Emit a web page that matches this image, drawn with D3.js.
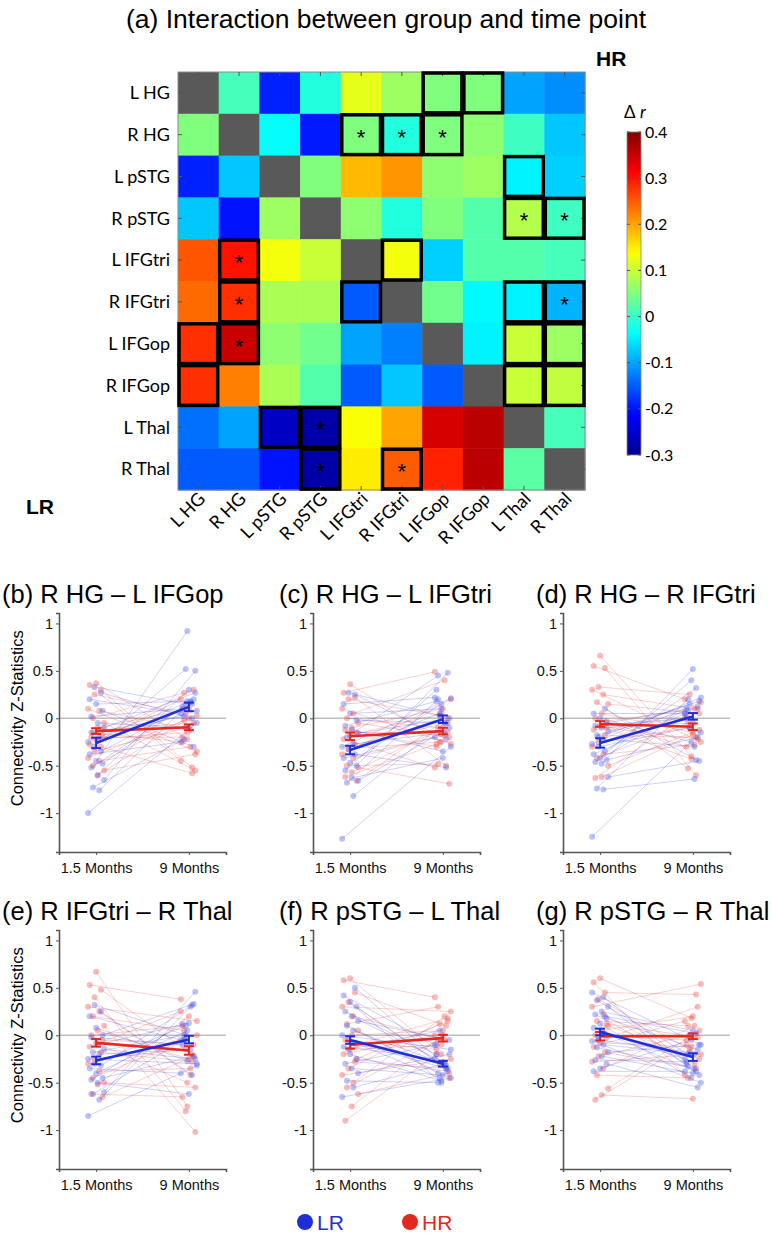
<!DOCTYPE html>
<html>
<head>
<meta charset="utf-8">
<script src="https://cdn.jsdelivr.net/npm/d3@7"></script>
<style>
body { margin: 0; background: #fff; }
svg { display: block; }
</style>
</head>
<body>
<div id="chart"></div>
<script>
// ---- data ----
var regions = ["L HG", "R HG", "L pSTG", "R pSTG", "L IFGtri", "R IFGtri", "L IFGop", "R IFGop", "L Thal", "R Thal"];

// delta r matrix: upper triangle = HR, lower triangle = LR, diagonal empty
var deltaR = [
  [null, 0.01, -0.19, -0.015, 0.12, 0.07, 0.05, 0.05, -0.10, -0.115],
  [0.05, null, -0.035, -0.195, 0.05, -0.015, 0.05, 0.06, 0.005, -0.075],
  [-0.19, -0.075, null, 0.05, 0.185, 0.21, 0.06, 0.07, -0.045, -0.07],
  [-0.075, -0.20, 0.07, null, 0.06, -0.015, 0.05, 0.02, 0.085, 0.005],
  [0.255, 0.30, 0.13, 0.10, null, 0.13, -0.07, 0.02, 0.02, 0.01],
  [0.24, 0.28, 0.08, 0.08, -0.15, null, 0.04, -0.04, -0.045, -0.09],
  [0.28, 0.35, 0.06, 0.04, -0.10, -0.125, null, -0.045, 0.10, 0.07],
  [0.28, 0.225, 0.08, 0.02, -0.15, -0.075, -0.15, null, 0.10, 0.095],
  [-0.135, -0.10, -0.26, -0.28, 0.135, 0.20, 0.34, 0.36, null, 0.01],
  [-0.15, -0.15, -0.20, -0.28, 0.15, 0.25, 0.29, 0.36, 0.025, null]
];
var boxed = [[0,6],[0,7],[1,4],[1,5],[1,6],[2,8],[3,8],[3,9],[4,1],[4,5],[5,1],[5,4],[5,8],[5,9],
  [6,0],[6,1],[6,8],[6,9],[7,0],[7,8],[7,9],[8,2],[8,3],[9,3],[9,5]];
var starred = [[1,4],[1,5],[1,6],[3,8],[3,9],[4,1],[5,1],[5,9],[6,1],[8,3],[9,3],[9,5]];
var cbarTicks = [0.4, 0.3, 0.2, 0.1, 0, -0.1, -0.2, -0.3];

var timeLabels = ["1.5 Months", "9 Months"];
var yTicks = [1, 0.5, 0, -0.5, -1];
var panelTitles = ["(b) R HG \u2013 L IFGop", "(c) R HG \u2013 L IFGtri", "(d) R HG \u2013 R IFGtri",
  "(e) R IFGtri \u2013 R Thal", "(f) R pSTG \u2013 L Thal", "(g) R pSTG \u2013 R Thal"];

// group means and standard errors [1.5 months, 9 months]
var meanLR = [[-0.26, 0.12], [-0.335, -0.01], [-0.26, 0.02], [-0.265, -0.045], [-0.05, -0.30], [0.035, -0.23]];
var seLR   = [[0.055, 0.045], [0.045, 0.04], [0.05, 0.035], [0.04, 0.04], [0.04, 0.03], [0.035, 0.04]];
var meanHR = [[-0.135, -0.095], [-0.19, -0.135], [-0.06, -0.09], [-0.08, -0.16], [-0.10, -0.03], [-0.01, -0.01]];
var seHR   = [[0.03, 0.03], [0.04, 0.035], [0.03, 0.035], [0.04, 0.045], [0.04, 0.035], [0.045, 0.03]];

// individual subjects [1.5 months, 9 months]
var lrB = [[-1.0,-0.05],[-0.76,0.17],[-0.73,-0.22],[-0.65,0.5],[-0.6,0.3],[-0.52,0.12],[-0.48,0.2],[-0.45,0.92],[-0.38,-0.25],[-0.35,0.15],[-0.3,0.52],
  [-0.25,0.08],[-0.2,0.18],[-0.15,0.02],[-0.1,0.27],[-0.05,-0.1],[0.02,0.1],[0.08,-0.3],[0.15,0.18],[0.2,0.05],[0.27,0.0],[0.33,0.15]];
var hrB = [[0.37,-0.22],[0.35,-0.45],[0.3,-0.52],[0.25,0.05],[0.1,-0.35],[0.08,-0.12],[0.0,0.27],[-0.05,-0.55],[-0.1,0.1],[-0.15,-0.25],[-0.18,0.3],
  [-0.22,-0.15],[-0.28,0.2],[-0.3,-0.58],[-0.35,-0.1],[-0.42,0.03],[-0.45,-0.3],[-0.5,-0.02],[-0.55,-0.38],[-0.6,0.0],[-0.2,-0.2],[-0.12,-0.05]];
var lrC = [[-1.27,-0.3],[-0.82,-0.05],[-0.68,0.2],[-0.66,-0.1],[-0.63,-0.42],[-0.55,0.3],[-0.5,0.48],[-0.47,0.15],[-0.42,-0.2],[-0.38,-0.52],[-0.33,0.05],
  [-0.3,0.21],[-0.27,-0.15],[-0.2,0.45],[-0.16,0.0],[-0.12,-0.35],[-0.08,0.18],[-0.02,-0.05],[0.05,0.1],[0.15,0.22],[0.25,-0.22],[0.27,0.03]];
var hrC = [[0.36,-0.25],[0.27,0.49],[0.22,-0.5],[0.2,0.03],[0.1,-0.27],[0.05,0.4],[0.0,-0.1],[-0.05,-0.2],[-0.1,0.1],[-0.12,-0.3],[-0.15,-0.15],
  [-0.18,0.05],[-0.22,-0.52],[-0.28,-0.05],[-0.32,-0.25],[-0.38,0.2],[-0.42,-0.18],[-0.5,-0.48],[-0.52,-0.69],[-0.57,-0.1],[-0.62,-0.27],[-0.66,0.0]];
var lrD = [[-1.25,-0.15],[-0.75,-0.64],[-0.74,0.2],[-0.62,-0.45],[-0.48,0.52],[-0.46,0.1],[-0.44,-0.2],[-0.42,0.4],[-0.38,0.05],[-0.35,0.32],[-0.3,-0.1],
  [-0.27,0.22],[-0.22,-0.3],[-0.18,0.08],[-0.14,0.18],[-0.1,-0.05],[-0.08,0.0],[-0.05,0.12],[0.0,-0.25],[0.05,0.05],[0.1,-0.44],[-0.2,0.15]];
var hrD = [[0.66,-0.4],[0.55,0.2],[0.53,-0.6],[0.33,0.25],[0.3,-0.25],[0.25,0.1],[0.17,-0.53],[0.15,0.05],[0.05,-0.15],[0.0,-0.3],[-0.03,0.1],
  [-0.08,-0.43],[-0.12,0.0],[-0.18,-0.2],[-0.25,-0.1],[-0.3,0.17],[-0.38,-0.28],[-0.42,-0.05],[-0.5,-0.12],[-0.62,-0.17],[-0.63,0.03],[-0.1,-0.22]];
var lrE = [[-0.85,-0.32],[-0.68,0.3],[-0.62,-0.05],[-0.6,0.46],[-0.5,-0.62],[-0.47,0.12],[-0.45,-0.22],[-0.4,0.05],[-0.35,-0.4],[-0.32,0.32],[-0.3,0.1],
  [-0.25,-0.3],[-0.2,-0.15],[-0.18,0.0],[-0.15,-0.25],[-0.1,0.13],[-0.02,-0.1],[0.0,0.33],[0.08,-0.27],[0.2,-0.05],[0.25,-0.42],[0.32,0.0]];
var hrE = [[0.67,-0.75],[0.53,0.38],[0.48,-0.2],[0.4,-0.8],[0.3,0.15],[0.25,-0.42],[0.2,0.05],[0.1,-1.02],[0.05,-0.25],[0.0,0.1],[-0.05,-0.1],
  [-0.08,-0.5],[-0.12,0.25],[-0.18,-0.28],[-0.25,-0.15],[-0.3,0.0],[-0.38,-0.35],[-0.45,-0.05],[-0.5,-0.55],[-0.52,0.2],[-0.62,-0.65],[-0.65,-0.22]];
var lrF = [[-0.65,-0.45],[-0.55,-0.3],[-0.48,-0.5],[-0.4,-0.2],[-0.35,-0.42],[-0.3,-0.1],[-0.25,-0.38],[-0.2,-0.48],[-0.12,-0.25],[-0.08,-0.35],[-0.05,-0.45],
  [0.0,-0.15],[0.05,-0.3],[0.1,-0.4],[0.15,-0.05],[0.2,-0.28],[0.25,-0.2],[0.3,-0.35],[0.35,-0.5],[0.42,-0.1],[0.5,-0.32],[-0.15,0.05]];
var hrF = [[0.6,-0.2],[0.58,0.4],[0.45,0.1],[0.35,-0.3],[0.3,0.25],[0.2,-0.05],[0.12,0.3],[0.05,-0.45],[0.0,0.05],[-0.05,-0.15],[-0.1,0.18],
  [-0.15,-0.1],[-0.2,0.0],[-0.28,-0.35],[-0.35,0.12],[-0.42,-0.25],[-0.5,0.2],[-0.55,-0.05],[-0.62,-0.4],[-0.75,0.0],[-0.9,-0.2],[-0.25,0.15]];
var lrG = [[0.45,-0.1],[0.4,-0.35],[0.37,-0.2],[0.3,-0.42],[0.25,0.05],[0.22,-0.3],[0.18,-0.15],[0.12,-0.45],[0.08,-0.25],[0.02,-0.38],[-0.02,0.0],
  [-0.06,-0.5],[-0.1,-0.2],[-0.13,-0.33],[-0.18,-0.1],[-0.22,-0.4],[-0.26,-0.28],[-0.3,-0.55],[-0.35,-0.05],[-0.38,-0.38],[0.2,0.02],[-0.05,-0.18]];
var hrG = [[0.6,0.18],[0.56,-0.42],[0.45,0.43],[0.38,-0.15],[0.3,0.54],[0.22,-0.3],[0.15,0.1],[0.1,-0.25],[0.05,0.2],[0.0,-0.05],[-0.03,0.3],
  [-0.08,-0.12],[-0.12,0.15],[-0.18,-0.35],[-0.22,0.0],[-0.28,-0.2],[-0.35,0.1],[-0.42,-0.45],[-0.56,0.05],[-0.63,-0.67],[-0.68,-0.1],[0.12,-0.02]];

var subjLR = [lrB, lrC, lrD, lrE, lrF, lrG];
var subjHR = [hrB, hrC, hrD, hrE, hrF, hrG];

// ---- svg ----
var svgWidth = 772;
var svgHeight = 1239;
var svg = d3.select("#chart").append("svg")
  .attr("width", svgWidth)
  .attr("height", svgHeight);

var sans = "'Liberation Sans', Arial, Helvetica, sans-serif";
var labelFont = "Lato, 'Open Sans', sans-serif";

svg.append("text")
  .attr("x", 386).attr("y", 28)
  .attr("text-anchor", "middle")
  .style("font-family", sans).style("font-size", "26.5px")
  .text("(a) Interaction between group and time point");

// ---- heatmap ----
var hm = { left: 178, top: 72, right: 585, bottom: 490 };
var xBand = d3.scaleBand().domain(regions).range([hm.left, hm.right]);
var yBand = d3.scaleBand().domain(regions).range([hm.top, hm.bottom]);

var jet = d3.scaleLinear()
  .domain([0, 0.125, 0.375, 0.625, 0.875, 1].map(t => -0.3 + t * 0.7))
  .range(["#00008f", "#0000ff", "#00ffff", "#ffff00", "#ff0000", "#800000"])
  .clamp(true);

var cells = [];
deltaR.forEach(function(row, i) {
  row.forEach(function(v, j) { cells.push({ r: i, c: j, v: v }); });
});

var hmGroup = svg.append("g");
hmGroup.selectAll(".cell")
  .data(cells)
  .enter()
  .append("rect")
  .attr("class", "cell")
  .attr("x", d => xBand(regions[d.c]))
  .attr("y", d => yBand(regions[d.r]))
  .attr("width", xBand.bandwidth() + 0.5)
  .attr("height", yBand.bandwidth() + 0.5)
  .attr("fill", d => d.v === null ? "#595959" : jet(d.v));

// frame and inner ticks (matlab style)
hmGroup.append("rect")
  .attr("x", hm.left).attr("y", hm.top)
  .attr("width", hm.right - hm.left).attr("height", hm.bottom - hm.top)
  .attr("fill", "none").attr("stroke", "#8a8a8a").attr("stroke-width", 1);

regions.forEach(function(name) {
  var cx = xBand(name) + xBand.bandwidth() / 2;
  var cy = yBand(name) + yBand.bandwidth() / 2;
  hmGroup.append("line").attr("x1", cx).attr("x2", cx).attr("y1", hm.top).attr("y2", hm.top + 4)
    .attr("stroke", "#555").attr("stroke-width", 1);
  hmGroup.append("line").attr("x1", cx).attr("x2", cx).attr("y1", hm.bottom).attr("y2", hm.bottom - 4)
    .attr("stroke", "#555").attr("stroke-width", 1);
  hmGroup.append("line").attr("x1", hm.left).attr("x2", hm.left + 4).attr("y1", cy).attr("y2", cy)
    .attr("stroke", "#555").attr("stroke-width", 1);
  hmGroup.append("line").attr("x1", hm.right).attr("x2", hm.right - 4).attr("y1", cy).attr("y2", cy)
    .attr("stroke", "#555").attr("stroke-width", 1);
});

hmGroup.selectAll(".box")
  .data(boxed)
  .enter()
  .append("rect")
  .attr("class", "box")
  .attr("x", d => xBand(regions[d[1]]) + 1)
  .attr("y", d => yBand(regions[d[0]]) + 1)
  .attr("width", xBand.bandwidth() - 2)
  .attr("height", yBand.bandwidth() - 2)
  .attr("fill", "none")
  .attr("stroke", "#000")
  .attr("stroke-width", 3.5);

hmGroup.selectAll(".star")
  .data(starred)
  .enter()
  .append("text")
  .attr("class", "star")
  .attr("x", d => xBand(regions[d[1]]) + xBand.bandwidth() / 2)
  .attr("y", d => yBand(regions[d[0]]) + yBand.bandwidth() / 2 + 10)
  .attr("text-anchor", "middle")
  .style("font-family", sans).style("font-size", "22px")
  .text("*");

// row labels
hmGroup.selectAll(".rowlab")
  .data(regions)
  .enter()
  .append("text")
  .attr("x", hm.left - 8)
  .attr("y", d => yBand(d) + yBand.bandwidth() / 2)
  .attr("dy", "0.35em")
  .attr("text-anchor", "end")
  .style("font-family", labelFont).style("font-size", "18px")
  .text(d => d);

// column labels
hmGroup.selectAll(".collab")
  .data(regions)
  .enter()
  .append("text")
  .attr("text-anchor", "end")
  .attr("transform", d => `translate(${xBand(d) + xBand.bandwidth() / 2 + 8}, ${hm.bottom + 10}) rotate(-45)`)
  .style("font-family", labelFont).style("font-size", "18px")
  .text(d => d);

svg.append("text").attr("x", 596).attr("y", 66)
  .style("font-family", sans).style("font-size", "21px").style("font-weight", "bold")
  .text("HR");
svg.append("text").attr("x", 26).attr("y", 514)
  .style("font-family", sans).style("font-size", "21px").style("font-weight", "bold")
  .text("LR");

// ---- colorbar ----
var cbScale = d3.scaleLinear().domain([-0.3, 0.4]).range([455, 132]);
var cbX = 627, cbW = 14;
var grad = svg.append("defs").append("linearGradient")
  .attr("id", "jetgrad").attr("x1", 0).attr("x2", 0).attr("y1", 1).attr("y2", 0);
d3.range(0, 1.0001, 0.02).forEach(function(t) {
  grad.append("stop").attr("offset", t).attr("stop-color", jet(-0.3 + t * 0.7));
});
svg.append("rect")
  .attr("x", cbX).attr("y", cbScale(0.4))
  .attr("width", cbW).attr("height", cbScale(-0.3) - cbScale(0.4))
  .attr("fill", "url(#jetgrad)").attr("stroke", "#8a8a8a").attr("stroke-width", 0.8);
cbarTicks.forEach(function(t) {
  svg.append("line").attr("x1", cbX).attr("x2", cbX + 3).attr("y1", cbScale(t)).attr("y2", cbScale(t))
    .attr("stroke", "#555");
  svg.append("line").attr("x1", cbX + cbW).attr("x2", cbX + cbW - 3).attr("y1", cbScale(t)).attr("y2", cbScale(t))
    .attr("stroke", "#555");
  svg.append("text").attr("x", cbX + cbW + 4).attr("y", cbScale(t)).attr("dy", "0.35em")
    .style("font-family", labelFont).style("font-size", "16px")
    .text(t);
});
var dr = svg.append("text").attr("x", 624).attr("y", 118)
  .style("font-family", labelFont).style("font-size", "17px");
dr.append("tspan").text("\u0394 ");
dr.append("tspan").style("font-style", "italic").text("r");

// ---- connectivity panels ----
var panelW = 167, panelH = 239;
var panelX = [59, 313, 563];
var panelY = [613, 930];
var titleX = [2, 279, 536];
var blue = "#1f2fd8", red = "#e3281e";
var blueDot = "#4d5cf0", redDot = "#f04a4a";

var xTime = d3.scaleLinear().domain([0.6, 2.4]).range([0, panelW]);
var yZ = d3.scaleLinear().domain([-1.41, 1.11]).range([panelH, 0]);

function jitter(i, k) {
  return (((i * 7 + k * 5) % 11) - 5) * 1.6;
}

panelTitles.forEach(function(title, p) {
  var px = panelX[p % 3], py = panelY[Math.floor(p / 3)];
  var g = svg.append("g").attr("transform", `translate(${px}, ${py})`);

  svg.append("text")
    .attr("x", titleX[p % 3]).attr("y", py - 10)
    .style("font-family", sans).style("font-size", "25.5px")
    .text(title);

  // zero line
  g.append("line")
    .attr("x1", 0).attr("x2", panelW)
    .attr("y1", yZ(0)).attr("y2", yZ(0))
    .attr("stroke", "#bdbdbd").attr("stroke-width", 1.5);

  var leftAxis = d3.axisLeft(yZ).tickValues(yTicks).tickSize(3).tickFormat(d => d);
  var bottomAxis = d3.axisBottom(xTime).tickValues([1, 2]).tickSize(3).tickFormat((d, i) => timeLabels[i]);

  var ya = g.append("g").call(leftAxis);
  var xa = g.append("g").attr("transform", `translate(0, ${panelH})`).call(bottomAxis);
  [ya, xa].forEach(function(a) {
    a.select(".domain").attr("stroke", "#555").attr("stroke-width", 1.6);
    a.selectAll(".tick line").attr("stroke", "#555");
    a.selectAll("text").style("font-family", sans).style("font-size", "14.5px").attr("fill", "#111");
  });
  xa.selectAll("text").attr("dy", "1.05em");

  // individual subjects
  var groups = [
    { data: subjHR[p], line: red, dot: redDot, k: 1 },
    { data: subjLR[p], line: blue, dot: blueDot, k: 0 }
  ];
  groups.forEach(function(gr) {
    g.selectAll(null)
      .data(gr.data)
      .enter()
      .append("line")
      .attr("x1", (d, i) => xTime(1) + jitter(i, gr.k))
      .attr("x2", (d, i) => xTime(2) + jitter(i + 3, gr.k))
      .attr("y1", d => yZ(d[0]))
      .attr("y2", d => yZ(d[1]))
      .attr("stroke", gr.line).attr("stroke-opacity", 0.22).attr("stroke-width", 1);
  });
  groups.forEach(function(gr) {
    [0, 1].forEach(function(t) {
      g.selectAll(null)
        .data(gr.data)
        .enter()
        .append("circle")
        .attr("cx", (d, i) => xTime(t + 1) + jitter(i + 3 * t, gr.k))
        .attr("cy", d => yZ(d[t]))
        .attr("r", 3)
        .attr("fill", gr.dot).attr("fill-opacity", 0.38);
    });
  });

  // means with error bars
  var meanSets = [
    { m: meanHR[p], se: seHR[p], c: red },
    { m: meanLR[p], se: seLR[p], c: blue }
  ];
  meanSets.forEach(function(ms) {
    g.append("line")
      .attr("x1", xTime(1)).attr("x2", xTime(2))
      .attr("y1", yZ(ms.m[0])).attr("y2", yZ(ms.m[1]))
      .attr("stroke", ms.c).attr("stroke-width", 2.6);
    [0, 1].forEach(function(t) {
      var x = xTime(t + 1);
      var lo = yZ(ms.m[t] - ms.se[t]), hi = yZ(ms.m[t] + ms.se[t]);
      g.append("line").attr("x1", x).attr("x2", x).attr("y1", lo).attr("y2", hi)
        .attr("stroke", ms.c).attr("stroke-width", 2);
      [lo, hi].forEach(function(yy) {
        g.append("line").attr("x1", x - 5).attr("x2", x + 5).attr("y1", yy).attr("y2", yy)
          .attr("stroke", ms.c).attr("stroke-width", 2);
      });
    });
  });

  if (p % 3 === 0) {
    svg.append("text")
      .attr("transform", `translate(23, ${py + yZ(0)}) rotate(-90)`)
      .attr("text-anchor", "middle")
      .style("font-family", sans).style("font-size", "16.5px")
      .text("Connectivity Z-Statistics");
  }
});

// ---- legend ----
var legend = [{ name: "LR", c: blue, x: 305 }, { name: "HR", c: red, x: 410 }];
legend.forEach(function(l) {
  svg.append("circle").attr("cx", l.x).attr("cy", 1222).attr("r", 8).attr("fill", l.c);
  svg.append("text").attr("x", l.x + 12).attr("y", 1229.5)
    .style("font-family", sans).style("font-size", "21px").attr("fill", l.c)
    .text(l.name);
});
</script>
</body>
</html>
